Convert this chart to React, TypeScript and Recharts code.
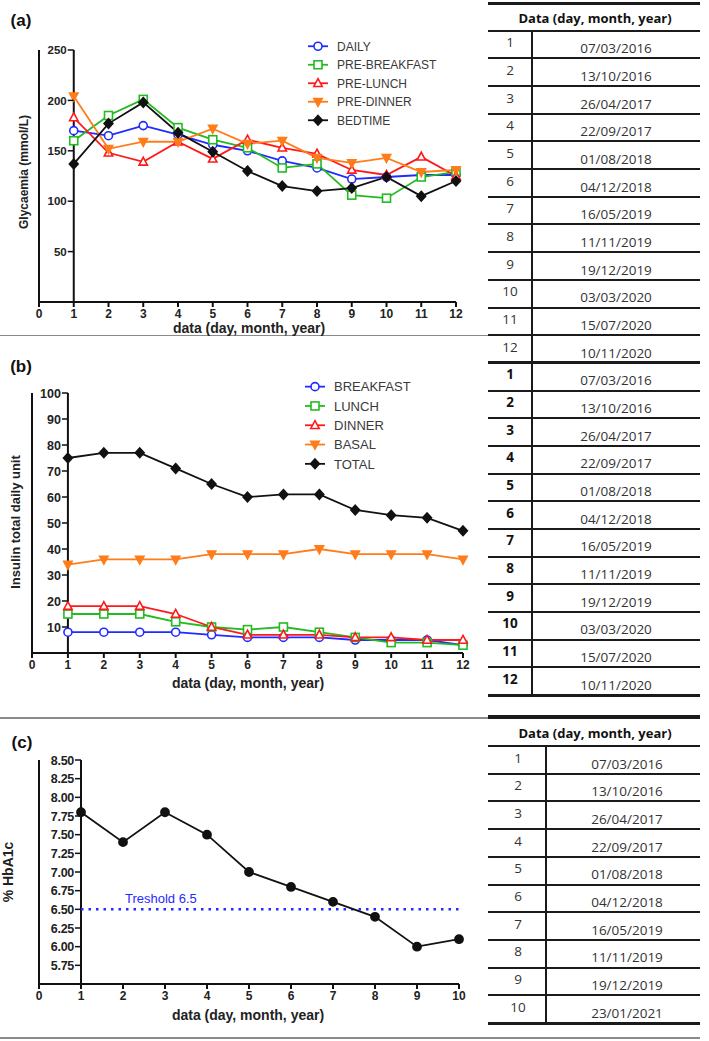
import React from "react";
import { LineChart, Line, XAxis, YAxis, ReferenceLine, Legend } from "recharts";

// visit index on the x axis
const visits12 = [1, 2, 3, 4, 5, 6, 7, 8, 9, 10, 11, 12];
const visits10 = [1, 2, 3, 4, 5, 6, 7, 8, 9, 10];
const xTicks12 = [0, 1, 2, 3, 4, 5, 6, 7, 8, 9, 10, 11, 12];
const xTicks10 = [0, 1, 2, 3, 4, 5, 6, 7, 8, 9, 10];

// (a) glycaemia
const glyDaily = [170, 165, 175, 166, 156, 150, 140, 133, 122, 124, 126, 126];
const glyPreBreakfast = [160, 185, 201, 173, 161, 153, 133, 137, 106, 103, 124, 129];
const glyPreLunch = [183, 148, 139, 159, 142, 161, 153, 147, 131, 126, 144, 125];
const glyPreDinner = [204, 152, 159, 159, 172, 157, 160, 143, 138, 143, 129, 131];
const glyBedtime = [137, 177, 198, 168, 149, 130, 115, 110, 113, 124, 105, 120];
const glyTicks = [50, 100, 150, 200, 250];

// (b) insulin
const insBreakfast = [8, 8, 8, 8, 7, 6, 6, 6, 5, 5, 5, 3];
const insLunch = [15, 15, 15, 12, 10, 9, 10, 8, 6, 4, 4, 3];
const insDinner = [18, 18, 18, 15, 10, 7, 7, 7, 6, 6, 5, 5];
const insBasal = [34, 36, 36, 36, 38, 38, 38, 40, 38, 38, 38, 36];
const insTotal = [75, 77, 77, 71, 65, 60, 61, 61, 55, 53, 52, 47];
const insTicks = [10, 20, 30, 40, 50, 60, 70, 80, 90, 100];

// (c) HbA1c
const hba1c = [7.8, 7.4, 7.8, 7.5, 7.0, 6.8, 6.6, 6.4, 6.0, 6.1];
const hbTicks = [5.75, 6.0, 6.25, 6.5, 6.75, 7.0, 7.25, 7.5, 7.75, 8.0, 8.25, 8.5];
const hbThreshold = 6.5;

// tables
const dates12 = [
  "07/03/2016", "13/10/2016", "26/04/2017", "22/09/2017", "01/08/2018", "04/12/2018",
  "16/05/2019", "11/11/2019", "19/12/2019", "03/03/2020", "15/07/2020", "10/11/2020",
];
const dates10 = [
  "07/03/2016", "13/10/2016", "26/04/2017", "22/09/2017", "01/08/2018", "04/12/2018",
  "16/05/2019", "11/11/2019", "19/12/2019", "23/01/2021",
];

const BLUE = "#1f2bff";
const GREEN = "#22bb22";
const RED = "#ff1a1a";
const ORANGE = "#ff7c1a";
const BLACK = "#111";
const AX = "Liberation Sans, Arial, sans-serif";
const TB = "Open Sans, sans-serif";
const YW = 30; // y axis band width

type Shape = "circle" | "square" | "triangle" | "triangleDown" | "diamond";
type Series = { key: string; name: string; color: string; shape: Shape; filled: boolean };

const glySeries: Series[] = [
  { key: "daily", name: "DAILY", color: BLUE, shape: "circle", filled: false },
  { key: "preBreakfast", name: "PRE-BREAKFAST", color: GREEN, shape: "square", filled: false },
  { key: "preLunch", name: "PRE-LUNCH", color: RED, shape: "triangle", filled: false },
  { key: "preDinner", name: "PRE-DINNER", color: ORANGE, shape: "triangleDown", filled: true },
  { key: "bedtime", name: "BEDTIME", color: BLACK, shape: "diamond", filled: true },
];
const insSeries: Series[] = [
  { key: "breakfast", name: "BREAKFAST", color: BLUE, shape: "circle", filled: false },
  { key: "lunch", name: "LUNCH", color: GREEN, shape: "square", filled: false },
  { key: "dinner", name: "DINNER", color: RED, shape: "triangle", filled: false },
  { key: "basal", name: "BASAL", color: ORANGE, shape: "triangleDown", filled: true },
  { key: "total", name: "TOTAL", color: BLACK, shape: "diamond", filled: true },
];

const glyData = visits12.map((x, i) => ({
  x,
  daily: glyDaily[i],
  preBreakfast: glyPreBreakfast[i],
  preLunch: glyPreLunch[i],
  preDinner: glyPreDinner[i],
  bedtime: glyBedtime[i],
}));
const insData = visits12.map((x, i) => ({
  x,
  breakfast: insBreakfast[i],
  lunch: insLunch[i],
  dinner: insDinner[i],
  basal: insBasal[i],
  total: insTotal[i],
}));
const hbData = visits10.map((x, i) => ({ x, hba1c: hba1c[i] }));

function Marker({ cx, cy, shape, color, filled, s = 4 }: any) {
  if (cx == null || cy == null) return null;
  const fill = filled ? color : "#fff";
  const common = { stroke: color, strokeWidth: 1.6, fill };
  if (shape === "circle") return <circle cx={cx} cy={cy} r={s} {...common} />;
  if (shape === "square")
    return <rect x={cx - s} y={cy - s} width={2 * s} height={2 * s} {...common} />;
  if (shape === "triangle")
    return (
      <polygon
        points={`${cx},${cy - s * 1.15} ${cx + s * 1.05},${cy + s * 0.8} ${cx - s * 1.05},${cy + s * 0.8}`}
        {...common}
      />
    );
  if (shape === "triangleDown")
    return (
      <polygon
        points={`${cx},${cy + s * 1.15} ${cx + s * 1.05},${cy - s * 0.8} ${cx - s * 1.05},${cy - s * 0.8}`}
        {...common}
      />
    );
  return (
    <polygon
      points={`${cx},${cy - s * 1.2} ${cx + s * 1.1},${cy} ${cx},${cy + s * 1.2} ${cx - s * 1.1},${cy}`}
      {...common}
    />
  );
}

function LegendBox({ items, rowH, fontSize, textX }: { items: Series[]; rowH: number; fontSize: number; textX: number }) {
  return (
    <svg width={170} height={items.length * rowH + 4}>
      {items.map((it, i) => {
        const y = rowH / 2 + i * rowH;
        return (
          <g key={it.key}>
            <line x1={2} x2={22} y1={y} y2={y} stroke={it.color} strokeWidth={1.8} />
            <Marker cx={12} cy={y} shape={it.shape} color={it.color} filled={it.filled} />
            <text x={textX} y={y} dy="0.36em" fontSize={fontSize} fontFamily={AX} fill="#3a3a3a">
              {it.name}
            </text>
          </g>
        );
      })}
    </svg>
  );
}

// y ticks are drawn on the x=1 gridline, one x-unit to the right of the axis line
function makeYTick(shift: number, fontSize: number, fmt: (v: number) => string, spacing = 0) {
  return (props: any) => {
    const { x, y, payload } = props;
    const ax = x + shift;
    return (
      <g>
        <line x1={ax - 6} x2={ax} y1={y} y2={y} stroke={BLACK} strokeWidth={1.5} />
        <text
          x={ax - 7}
          y={y}
          dy="0.36em"
          textAnchor="end"
          fontSize={fontSize}
          fontWeight="bold"
          fontFamily={AX}
          fill="#222"
          letterSpacing={spacing}
        >
          {fmt(payload.value)}
        </text>
      </g>
    );
  };
}

const xTickStyle = { fontSize: 12, fontWeight: "bold" as const, fontFamily: AX, fill: "#222" };

function renderLines(series: Series[]) {
  return series.map((s) => (
    <Line
      key={s.key}
      type="linear"
      dataKey={s.key}
      name={s.name}
      stroke={s.color}
      strokeWidth={1.8}
      isAnimationActive={false}
      dot={(p: any) => (
        <Marker key={`${s.key}-${p.index}`} cx={p.cx} cy={p.cy} shape={s.shape} color={s.color} filled={s.filled} />
      )}
      activeDot={false}
    />
  ));
}

function Abs({ left, top, children, style }: any) {
  return <div style={{ position: "absolute", left, top, ...style }}>{children}</div>;
}

function CenterText({ cx, cy, text, size, bold, font, color = "#222", rotate = false }: any) {
  return (
    <div
      style={{
        position: "absolute",
        left: cx,
        top: cy,
        transform: `translate(-50%, -50%)${rotate ? " rotate(-90deg)" : ""}`,
        whiteSpace: "nowrap",
        fontSize: size,
        fontWeight: bold ? "bold" : "normal",
        fontFamily: font,
        color,
        lineHeight: 1,
      }}
    >
      {text}
    </div>
  );
}

function HLine({ x1, x2, y, w = 2, color = "#1a1a1a" }: any) {
  return <div style={{ position: "absolute", left: x1, top: y - w / 2, width: x2 - x1, height: w, background: color }} />;
}
function VLine({ x, y1, y2, w = 2, color = "#1a1a1a" }: any) {
  return <div style={{ position: "absolute", left: x - w / 2, top: y1, width: w, height: y2 - y1, background: color }} />;
}

function DateTable({ top, headerBottom, rowH, dates, boldSets, numX, dateX, colX }: any) {
  const rows: { n: number; d: string; bold: boolean }[] = [];
  boldSets.forEach((b: boolean) => dates.forEach((d: string, i: number) => rows.push({ n: i + 1, d, bold: b })));
  const bottom = headerBottom + rows.length * rowH;
  return (
    <>
      <HLine x1={488} x2={700} y={top} w={3.5} />
      <CenterText cx={595} cy={(top + headerBottom) / 2 + 1} text="Data (day, month, year)" size={13} bold font={TB} color="#111" />
      <HLine x1={488} x2={700} y={headerBottom} w={2} />
      <VLine x={colX} y1={headerBottom} y2={bottom} w={2} />
      {rows.map((r, i) => {
        const rt = headerBottom + i * rowH;
        const last = i === rows.length - 1 || (i + 1) % dates.length === 0;
        return (
          <React.Fragment key={i}>
            <CenterText cx={numX} cy={rt + 12.5} text={String(r.n)} size={13.5} bold={r.bold} font={TB} color={r.bold ? "#111" : "#333"} />
            <CenterText cx={dateX} cy={rt + 18.5} text={r.d} size={13.5} font={TB} color="#333" />
            <HLine x1={488} x2={700} y={rt + rowH} w={last ? 3 : 2} />
          </React.Fragment>
        );
      })}
    </>
  );
}

export default function App() {
  return (
    <div style={{ position: "absolute", left: 0, top: 0, width: 709, height: 1041, background: "#fff", overflow: "hidden" }}>
      {/* separators */}
      <HLine x1={0} x2={488} y={335.5} w={1.5} color="#8a8a8a" />
      <HLine x1={0} x2={488} y={718} w={1.5} color="#8a8a8a" />
      <HLine x1={0} x2={700} y={1038} w={1.5} color="#8a8a8a" />

      {/* (a) */}
      <Abs left={0} top={0}>
        <LineChart width={480} height={330} data={glyData} margin={{ top: 50, right: 24, bottom: 8, left: 39 - YW }}>
          <XAxis
            dataKey="x"
            type="number"
            domain={[0, 12]}
            ticks={xTicks12}
            interval={0}
            height={20}
            tickSize={5}
            tickMargin={2}
            stroke={BLACK}
            strokeWidth={2}
            tick={xTickStyle}
          />
          <YAxis
            type="number"
            domain={[0, 250]}
            ticks={glyTicks}
            interval={0}
            allowDataOverflow
            width={YW}
            tickSize={0}
            tickMargin={0}
            tickLine={false}
            stroke={BLACK}
            strokeWidth={2}
            tick={makeYTick(417 / 12, 11.5, (v) => String(v))}
          />
          <ReferenceLine x={1} stroke={BLACK} strokeWidth={2} />
          {renderLines(glySeries)}
          <Legend
            layout="vertical"
            align="center"
            verticalAlign="middle"
            wrapperStyle={{ left: 306, top: 37, width: 170, height: 100 }}
            content={() => <LegendBox items={glySeries} rowH={18.5} fontSize={12} textX={31} />}
          />
        </LineChart>
      </Abs>

      {/* (b) */}
      <Abs left={0} top={340}>
        <LineChart width={490} height={360} data={insData} margin={{ top: 53, right: 27, bottom: 27, left: 32 - YW }}>
          <XAxis
            dataKey="x"
            type="number"
            domain={[0, 12]}
            ticks={xTicks12}
            interval={0}
            height={20}
            tickSize={5}
            tickMargin={2}
            stroke={BLACK}
            strokeWidth={2}
            tick={xTickStyle}
          />
          <YAxis
            type="number"
            domain={[0, 100]}
            ticks={insTicks}
            interval={0}
            allowDataOverflow
            width={YW}
            tickSize={0}
            tickMargin={0}
            tickLine={false}
            stroke={BLACK}
            strokeWidth={2}
            tick={makeYTick(431 / 12, 12.5, (v) => String(v))}
          />
          <ReferenceLine x={1} stroke={BLACK} strokeWidth={2} />
          {renderLines(insSeries)}
          <Legend
            layout="vertical"
            align="center"
            verticalAlign="middle"
            wrapperStyle={{ left: 303, top: 37, width: 170, height: 105 }}
            content={() => <LegendBox items={insSeries} rowH={19.3} fontSize={13} textX={31} />}
          />
        </LineChart>
      </Abs>

      {/* (c) */}
      <Abs left={0} top={720}>
        <LineChart width={490} height={300} data={hbData} margin={{ top: 40, right: 31, bottom: 16, left: 39 - YW }}>
          <XAxis
            dataKey="x"
            type="number"
            domain={[0, 10]}
            ticks={xTicks10}
            interval={0}
            height={20}
            tickSize={5}
            tickMargin={2}
            stroke={BLACK}
            strokeWidth={2}
            tick={xTickStyle}
          />
          <YAxis
            type="number"
            domain={[5.5, 8.5]}
            ticks={hbTicks}
            interval={0}
            allowDataOverflow
            width={YW}
            tickSize={0}
            tickMargin={0}
            tickLine={false}
            stroke={BLACK}
            strokeWidth={2}
            tick={makeYTick(420 / 10, 12.5, (v) => v.toFixed(2), -0.3)}
          />
          <ReferenceLine x={1} stroke={BLACK} strokeWidth={2} />
          <ReferenceLine
            segment={[
              { x: 1, y: hbThreshold },
              { x: 10, y: hbThreshold },
            ]}
            stroke={BLUE}
            strokeWidth={2.5}
            strokeDasharray="2.5 5"
            label={{
              value: "Treshold 6.5",
              position: "insideBottomLeft",
              offset: 6,
              dx: 38,
              fontSize: 13,
              fontFamily: AX,
              fill: BLUE,
            }}
          />
          <Line
            type="linear"
            dataKey="hba1c"
            stroke={BLACK}
            strokeWidth={1.8}
            isAnimationActive={false}
            dot={{ r: 4, fill: BLACK, stroke: BLACK }}
            activeDot={false}
          />
        </LineChart>
      </Abs>

      {/* titles */}
      <CenterText cx={21} cy={20} text="(a)" size={17} bold font={AX} color="#111" />
      <CenterText cx={21} cy={366} text="(b)" size={17} bold font={AX} color="#111" />
      <CenterText cx={22} cy={742} text="(c)" size={17} bold font={AX} color="#111" />
      <CenterText cx={24} cy={172} text="Glycaemia (mmol/L)" size={12} bold font={AX} rotate />
      <CenterText cx={15} cy={522} text="Insulin total daily unit" size={13} bold font={AX} rotate />
      <CenterText cx={8} cy={872} text="% HbA1c" size={14} bold font={AX} rotate />
      <CenterText cx={249} cy={328} text="data (day, month, year)" size={14} bold font={AX} />
      <CenterText cx={248} cy={683} text="data (day, month, year)" size={14} bold font={AX} />
      <CenterText cx={248} cy={1015} text="data (day, month, year)" size={14} bold font={AX} />

      {/* tables */}
      <DateTable top={3.5} headerBottom={30.7} rowH={27.68} dates={dates12} boldSets={[false, true]} numX={510} dateX={616} colX={532} />
      <DateTable top={717} headerBottom={746} rowH={27.7} dates={dates10} boldSets={[false]} numX={518} dateX={627} colX={546} />
    </div>
  );
}
